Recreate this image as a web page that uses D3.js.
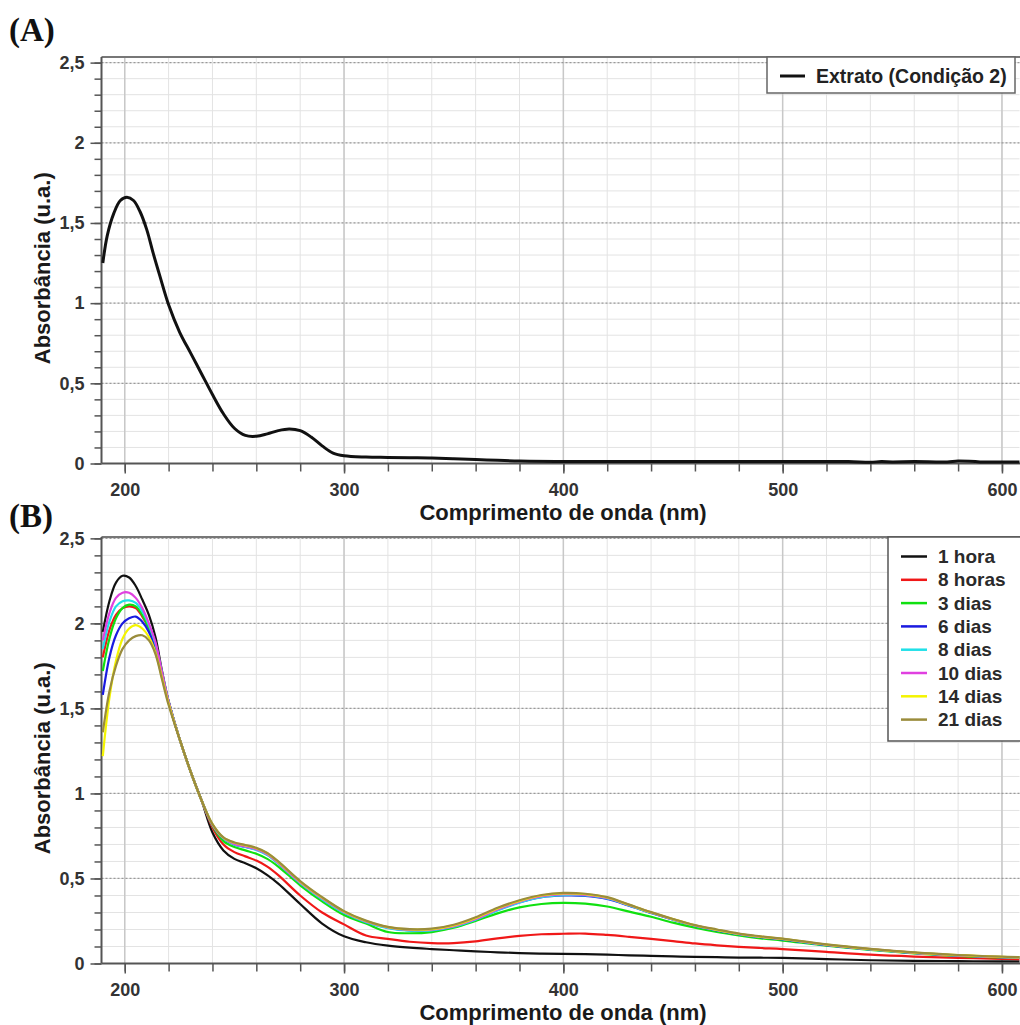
<!DOCTYPE html>
<html>
<head>
<meta charset="utf-8">
<script src="https://cdn.jsdelivr.net/npm/d3@7"></script>
<style>
  body { margin: 0; background: #fff; }
  svg { display: block; }
</style>
</head>
<body>
<svg id="chart" width="1020" height="1025"></svg>
<script>
// ---- data ----
const wlA = [190,192,195,198,201,204,207,210,213,216,220,225,230,235,240,245,250,255,260,265,270,275,280,285,290,295,300,310,320,330,340,350,360,370,380,400,420,450,500,530,540,545,550,560,575,580,590,608];
const extrato = [1.25,1.42,1.56,1.64,1.66,1.64,1.57,1.46,1.31,1.17,0.99,0.82,0.69,0.56,0.43,0.31,0.22,0.175,0.17,0.185,0.205,0.215,0.205,0.165,0.11,0.065,0.048,0.04,0.038,0.036,0.034,0.03,0.025,0.02,0.015,0.013,0.013,0.013,0.013,0.012,0.008,0.012,0.01,0.012,0.01,0.016,0.01,0.01];

const wlB = [190,193,196,199,202,205,208,211,214,217,220,225,230,235,240,245,250,255,260,265,270,280,290,300,310,320,330,340,350,360,370,380,390,400,410,420,430,440,450,460,470,480,490,500,520,540,560,580,600,608];
const hora1   = [1.95,2.13,2.24,2.28,2.27,2.22,2.14,2.05,1.92,1.72,1.54,1.32,1.13,0.96,0.77,0.665,0.615,0.59,0.56,0.52,0.47,0.35,0.235,0.16,0.125,0.105,0.093,0.085,0.078,0.071,0.066,0.061,0.058,0.057,0.055,0.052,0.048,0.045,0.042,0.039,0.037,0.035,0.034,0.033,0.026,0.019,0.016,0.014,0.012,0.012];
const horas8  = [1.80,1.96,2.05,2.09,2.10,2.09,2.04,1.97,1.87,1.70,1.54,1.32,1.13,0.96,0.80,0.70,0.655,0.63,0.605,0.57,0.52,0.40,0.30,0.23,0.165,0.145,0.128,0.12,0.12,0.13,0.148,0.163,0.172,0.175,0.176,0.168,0.157,0.145,0.132,0.118,0.107,0.098,0.091,0.085,0.068,0.052,0.041,0.033,0.027,0.025];
const dias3   = [1.72,1.91,2.03,2.09,2.11,2.10,2.05,1.97,1.87,1.70,1.54,1.32,1.13,0.96,0.81,0.72,0.685,0.665,0.645,0.615,0.57,0.46,0.365,0.285,0.235,0.185,0.178,0.185,0.21,0.25,0.295,0.33,0.35,0.357,0.352,0.335,0.305,0.275,0.24,0.21,0.185,0.165,0.148,0.135,0.105,0.08,0.06,0.045,0.036,0.034];
const dias6   = [1.58,1.80,1.93,2.00,2.03,2.04,2.01,1.95,1.85,1.70,1.54,1.32,1.13,0.96,0.815,0.735,0.70,0.685,0.67,0.64,0.59,0.475,0.38,0.30,0.245,0.21,0.195,0.197,0.218,0.26,0.315,0.36,0.39,0.40,0.398,0.38,0.34,0.297,0.258,0.222,0.195,0.172,0.155,0.142,0.108,0.083,0.062,0.047,0.037,0.034];
const dias8   = [1.85,2.01,2.10,2.13,2.135,2.12,2.07,1.99,1.88,1.71,1.54,1.32,1.13,0.96,0.815,0.735,0.70,0.685,0.668,0.638,0.588,0.473,0.378,0.298,0.243,0.208,0.193,0.195,0.216,0.258,0.312,0.358,0.39,0.402,0.40,0.382,0.342,0.298,0.259,0.223,0.196,0.173,0.156,0.143,0.109,0.083,0.062,0.047,0.037,0.034];
const dias10  = [1.90,2.06,2.15,2.18,2.18,2.15,2.09,2.00,1.89,1.71,1.54,1.32,1.13,0.96,0.815,0.738,0.703,0.688,0.672,0.642,0.592,0.477,0.383,0.302,0.247,0.212,0.197,0.199,0.22,0.262,0.318,0.364,0.396,0.408,0.404,0.385,0.344,0.30,0.26,0.224,0.197,0.174,0.157,0.144,0.11,0.084,0.063,0.048,0.038,0.035];
const dias14  = [1.22,1.56,1.78,1.91,1.97,1.99,1.97,1.92,1.83,1.68,1.53,1.32,1.13,0.96,0.82,0.74,0.71,0.695,0.678,0.648,0.598,0.482,0.387,0.306,0.25,0.214,0.20,0.202,0.224,0.268,0.324,0.368,0.40,0.412,0.408,0.388,0.345,0.301,0.261,0.225,0.198,0.175,0.158,0.145,0.111,0.085,0.064,0.049,0.039,0.036];
const dias21  = [1.36,1.60,1.75,1.85,1.90,1.925,1.93,1.90,1.82,1.67,1.52,1.32,1.13,0.96,0.82,0.742,0.712,0.697,0.68,0.65,0.60,0.485,0.39,0.308,0.252,0.215,0.202,0.205,0.228,0.272,0.328,0.372,0.403,0.415,0.41,0.39,0.346,0.302,0.262,0.226,0.20,0.176,0.16,0.146,0.112,0.086,0.065,0.05,0.04,0.037];

const seriesNames = ["1 hora","8 horas","3 dias","6 dias","8 dias","10 dias","14 dias","21 dias"];
const seriesValues = [hora1, horas8, dias3, dias6, dias8, dias10, dias14, dias21];
const seriesColors = ["#111111","#f01818","#10e010","#1a1ae0","#20e0e8","#e040e0","#f4f400","#9a8c3c"];

const xMajor = [200,300,400,500,600];
const yMajor = [0,0.5,1,1.5,2,2.5];

// ---- layout ----
const svg = d3.select("#chart");
const left = 101.5, right = 1019.5;
const x = d3.scaleLinear().domain([189.4, 608]).range([left, right]);
const fmt = d => String(d).replace(".", ",");

const drawPanel = (top, bottom, yMax, letter, letterY) => {
  const y = d3.scaleLinear().domain([0, yMax]).range([bottom, top]);
  const g = svg.append("g");

  // minor grid
  g.selectAll(".vminor").data(d3.range(200, 601, 20)).enter().append("line")
    .attr("x1", d => x(d)).attr("x2", d => x(d)).attr("y1", top).attr("y2", bottom)
    .style("stroke", "#e3e3e3").style("stroke-width", 1);
  g.selectAll(".hminor").data(d3.range(1, Math.floor(yMax * 10) + 1).map(d => d / 10)).enter().append("line")
    .attr("x1", left).attr("x2", right).attr("y1", d => y(d)).attr("y2", d => y(d))
    .style("stroke", "#e3e3e3").style("stroke-width", 1);
  // major grid
  g.selectAll(".vmajor").data(xMajor).enter().append("line")
    .attr("x1", d => x(d)).attr("x2", d => x(d)).attr("y1", top).attr("y2", bottom)
    .style("stroke", "#c8c8c8").style("stroke-width", 1.5);
  g.selectAll(".hmajor").data(yMajor.slice(1)).enter().append("line")
    .attr("x1", left).attr("x2", right).attr("y1", d => y(d)).attr("y2", d => y(d))
    .style("stroke", "#9a9a9a").style("stroke-width", 1.2).style("stroke-dasharray", "2,2");

  // top frame
  g.append("line").attr("x1", left).attr("x2", 1020).attr("y1", top).attr("y2", top)
    .style("stroke", "#777").style("stroke-width", 2);

  // axes
  const yAxis = g.append("g").attr("transform", `translate(${left},0)`)
    .call(d3.axisLeft(y).tickValues(yMajor).tickFormat(fmt).tickSize(11).tickPadding(6));
  g.append("g").attr("transform", `translate(${left},0)`)
    .call(d3.axisLeft(y).tickValues(d3.range(0, Math.floor(yMax * 10) + 1).map(d => d / 10)).tickFormat("").tickSize(7))
    .select(".domain").remove();
  const xAxis = g.append("g").attr("transform", `translate(0,${bottom})`)
    .call(d3.axisBottom(x).tickValues(xMajor).tickFormat(d3.format("d")).tickSize(10).tickPadding(10));
  g.append("g").attr("transform", `translate(0,${bottom})`)
    .call(d3.axisBottom(x).tickValues(d3.range(200, 601, 20)).tickFormat("").tickSize(8))
    .select(".domain").remove();

  g.selectAll(".tick line").style("stroke", "#555").style("stroke-width", 1.5);
  g.selectAll(".domain").style("stroke", "#555").style("stroke-width", 2);
  yAxis.select(".domain").attr("d", `M0,${top}V${bottom}`);
  xAxis.select(".domain").attr("d", `M${left},0H1020`);
  g.selectAll(".tick text")
    .style("font-family", "'Liberation Sans', Arial, sans-serif")
    .style("font-weight", "bold")
    .style("font-size", "18px").style("fill", "#333");

  // titles
  g.append("text").attr("x", 563).attr("y", bottom + 56)
    .attr("text-anchor", "middle")
    .style("font-family", "'Liberation Sans', Arial, sans-serif")
    .style("font-weight", "bold").style("font-size", "22px").style("fill", "#1a1a1a")
    .text("Comprimento de onda (nm)");
  g.append("text")
    .attr("transform", `translate(50,${(top + bottom) / 2 + 8}) rotate(-90)`)
    .attr("text-anchor", "middle")
    .style("font-family", "'Liberation Sans', Arial, sans-serif")
    .style("font-weight", "bold").style("font-size", "22px").style("fill", "#1a1a1a")
    .text("Absorbância (u.a.)");
  svg.append("text").attr("x", 9).attr("y", letterY)
    .style("font-family", "'Liberation Serif', 'Times New Roman', serif")
    .style("font-weight", "bold").style("font-size", "33px").style("fill", "#111")
    .text(letter);

  return { g, y };
};

// ---- panel A ----
const A = drawPanel(57, 463.5, 2.535, "(A)", 41);
const lineA = d3.line().x(d => x(d[0])).y(d => A.y(d[1])).curve(d3.curveCatmullRom.alpha(0.5));
A.g.append("path")
  .datum(wlA.map((w, i) => [w, extrato[i]]))
  .attr("d", lineA)
  .style("fill", "none").style("stroke", "#111").style("stroke-width", 3);

const legA = A.g.append("g");
legA.append("rect").attr("x", 767).attr("y", 57).attr("width", 248).attr("height", 36)
  .style("fill", "#fff").style("stroke", "#666").style("stroke-width", 1.5);
legA.append("line").attr("x1", 780).attr("x2", 805).attr("y1", 76).attr("y2", 76)
  .style("stroke", "#111").style("stroke-width", 3);
legA.append("text").attr("x", 816).attr("y", 83)
  .style("font-family", "'Liberation Sans', Arial, sans-serif")
  .style("font-weight", "bold").style("font-size", "19.5px").style("fill", "#222")
  .text("Extrato (Condição 2)");

// ---- panel B ----
const B = drawPanel(537, 963.5, 2.508, "(B)", 527);
const lineB = d3.line().x(d => x(d[0])).y(d => B.y(d[1])).curve(d3.curveCatmullRom.alpha(0.5));
B.g.selectAll(".serie")
  .data(seriesValues)
  .enter()
  .append("path")
  .attr("class", "serie")
  .attr("d", vals => lineB(wlB.map((w, i) => [w, vals[i]])))
  .style("fill", "none")
  .style("stroke", (d, i) => seriesColors[i])
  .style("stroke-width", 2.2);

const legB = B.g.append("g");
legB.append("rect").attr("x", 888).attr("y", 537).attr("width", 140).attr("height", 204)
  .style("fill", "#fff").style("stroke", "#555").style("stroke-width", 1.5);
const rowsB = legB.selectAll(".row").data(seriesNames).enter().append("g")
  .attr("transform", (d, i) => `translate(0,${556.5 + i * 23.3})`);
rowsB.append("line").attr("x1", 901).attr("x2", 927).attr("y1", 0).attr("y2", 0)
  .style("stroke", (d, i) => seriesColors[i]).style("stroke-width", 2.5);
rowsB.append("text").attr("x", 938).attr("y", 6.5)
  .style("font-family", "'Liberation Sans', Arial, sans-serif")
  .style("font-weight", "bold").style("font-size", "19px").style("fill", "#2a2a2a")
  .text(d => d);
</script>
</body>
</html>
